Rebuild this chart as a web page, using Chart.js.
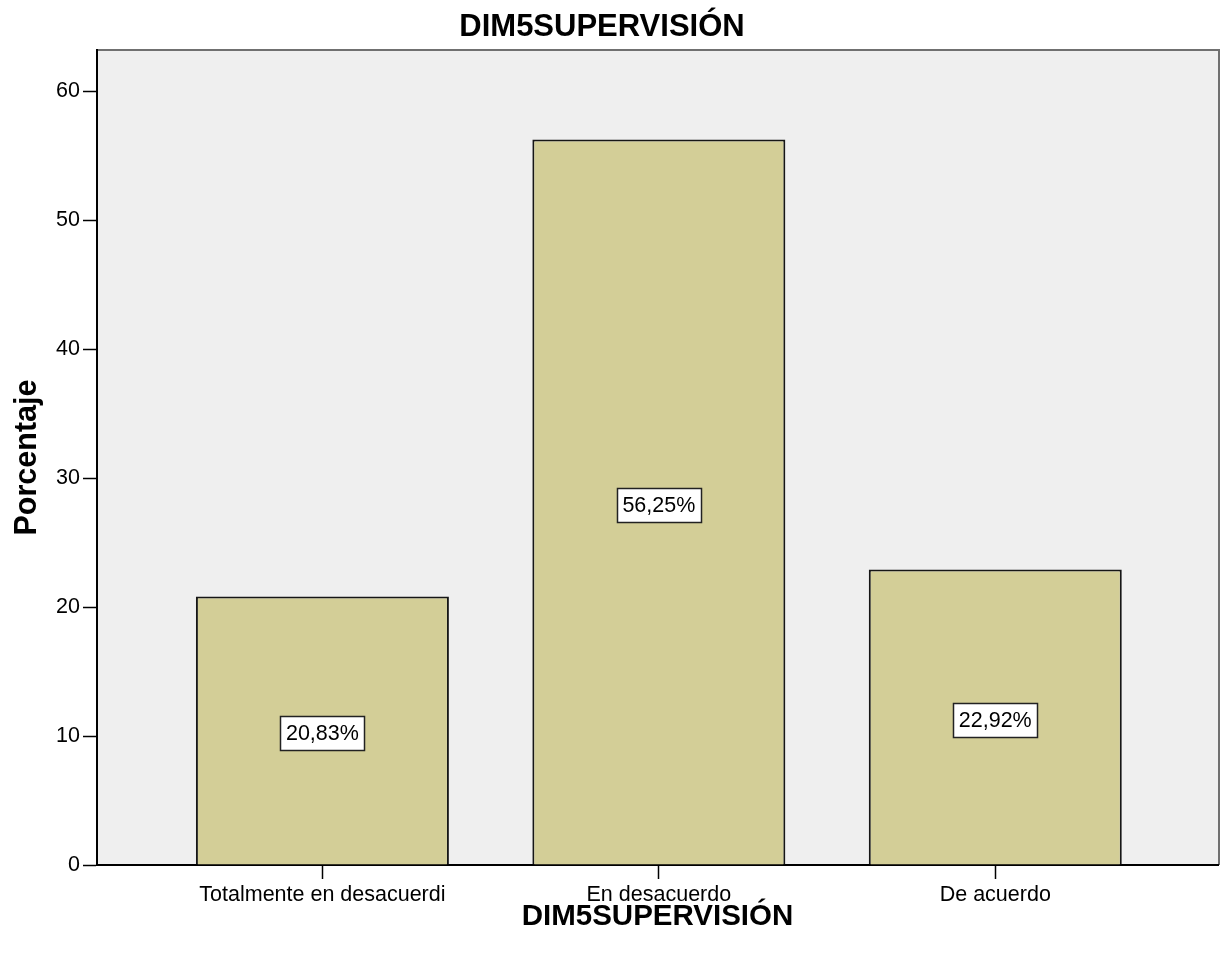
<!DOCTYPE html>
<html>
<head>
<meta charset="utf-8">
<title>DIM5SUPERVISIÓN</title>
<script src="https://cdn.jsdelivr.net/npm/chart.js@4/dist/chart.umd.min.js"></script>
<style>
  html, body { margin: 0; padding: 0; background: #ffffff; }
  canvas { display: block; }
</style>
</head>
<body>
<canvas id="chart" width="1220" height="956"></canvas>
<script>
// Chart data
const chartTitle = 'DIM5SUPERVISIÓN';
const categories = ['Totalmente en desacuerdi', 'En desacuerdo', 'De acuerdo'];
const percentages = [20.83, 56.25, 22.92];
const yTicks = [0, 10, 20, 30, 40, 50, 60];
const xAxisTitle = 'DIM5SUPERVISIÓN';
const yAxisTitle = 'Porcentaje';

const FONT = "'Liberation Sans', Arial, Helvetica, sans-serif";

// Grey plot background with the thin frame on the top and right sides
const plotFrame = {
  id: 'plotFrame',
  beforeDraw(chart) {
    const { ctx, chartArea: a } = chart;
    ctx.save();
    ctx.fillStyle = '#efefef';
    ctx.fillRect(a.left, a.top, a.right - a.left, a.bottom - a.top);
    ctx.strokeStyle = '#707070';
    ctx.lineWidth = 2;
    ctx.beginPath();
    ctx.moveTo(a.left, a.top);
    ctx.lineTo(a.right + 1, a.top);
    ctx.lineTo(a.right + 1, a.bottom);
    ctx.stroke();
    ctx.restore();
  }
};

// Main heading above the plot
const heading = {
  id: 'heading',
  afterDraw(chart) {
    const { ctx } = chart;
    ctx.save();
    ctx.font = `bold 31px ${FONT}`;
    ctx.fillStyle = '#000000';
    ctx.textAlign = 'center';
    ctx.textBaseline = 'alphabetic';
    ctx.fillText(chartTitle, 602, 36);
    ctx.restore();
  }
};

// Boxed percentage label in the middle of every bar
const valueBoxes = {
  id: 'valueBoxes',
  afterDatasetsDraw(chart) {
    const { ctx } = chart;
    const meta = chart.getDatasetMeta(0);
    ctx.save();
    ctx.font = `21.5px ${FONT}`;
    meta.data.forEach((bar, i) => {
      const text = percentages[i].toFixed(2).replace('.', ',') + '%';
      const w = Math.round(ctx.measureText(text).width + 11);
      const h = 34;
      const cx = bar.x;
      const cy = (bar.y + bar.base) / 2 + 3;
      const x0 = Math.round(cx - w / 2) + 0.5;
      const y0 = Math.round(cy - h / 2) + 0.5;
      ctx.fillStyle = '#ffffff';
      ctx.fillRect(x0, y0, w, h);
      ctx.strokeStyle = '#222222';
      ctx.lineWidth = 1.5;
      ctx.strokeRect(x0, y0, w, h);
      ctx.fillStyle = '#000000';
      ctx.textAlign = 'center';
      ctx.textBaseline = 'middle';
      ctx.fillText(text, cx, cy + 1);
    });
    ctx.restore();
  }
};

const points = categories.map((_, i) => ({ x: i, y: percentages[i] }));

new Chart(document.getElementById('chart'), {
  type: 'bar',
  data: {
    datasets: [{
      data: points,
      backgroundColor: '#d3ce97',
      borderColor: '#161616',
      borderWidth: 2,
      barPercentage: 0.752,
      categoryPercentage: 1.0
    }]
  },
  options: {
    responsive: false,
    devicePixelRatio: 1,
    animation: false,
    layout: { padding: { top: 50, right: 2, left: 0, bottom: 0 } },
    plugins: {
      legend: { display: false },
      tooltip: { enabled: false },
      title: { display: false }
    },
    scales: {
      x: {
        type: 'linear',
        offset: false,
        min: -0.67,
        max: 2.662,
        afterBuildTicks(scale) {
          scale.ticks = categories.map((_, i) => ({ value: i }));
        },
        afterFit(scale) { scale.height = 91; },
        ticks: {
          callback: (v) => categories[v] ?? '',
          autoSkip: false,
          maxRotation: 0,
          color: '#000000',
          padding: 3,
          font: { family: FONT, size: 21.5 }
        },
        grid: {
          display: true,
          offset: false,
          drawOnChartArea: false,
          drawTicks: true,
          tickLength: 14,
          tickColor: '#000000',
          tickWidth: 1.5
        },
        border: { display: true, color: '#000000', width: 2 },
        title: {
          display: true,
          text: xAxisTitle,
          color: '#000000',
          font: { family: FONT, size: 29.5, weight: 'bold' },
          padding: { top: 0, bottom: 21 }
        }
      },
      y: {
        type: 'linear',
        min: 0,
        max: 63.2,
        afterBuildTicks(scale) {
          scale.ticks = yTicks.map((v) => ({ value: v }));
        },
        afterFit(scale) { scale.width = 97; },
        ticks: {
          color: '#000000',
          padding: 3,
          font: { family: FONT, size: 21.5 }
        },
        grid: {
          display: true,
          drawOnChartArea: false,
          drawTicks: true,
          tickLength: 14,
          tickColor: '#000000',
          tickWidth: 1.5
        },
        border: { display: true, color: '#000000', width: 2 },
        title: {
          display: true,
          text: yAxisTitle,
          color: '#000000',
          font: { family: FONT, size: 30.5, weight: 'bold' },
          padding: { top: 9, bottom: 0 }
        }
      }
    }
  },
  plugins: [plotFrame, valueBoxes, heading]
});
</script>
</body>
</html>
